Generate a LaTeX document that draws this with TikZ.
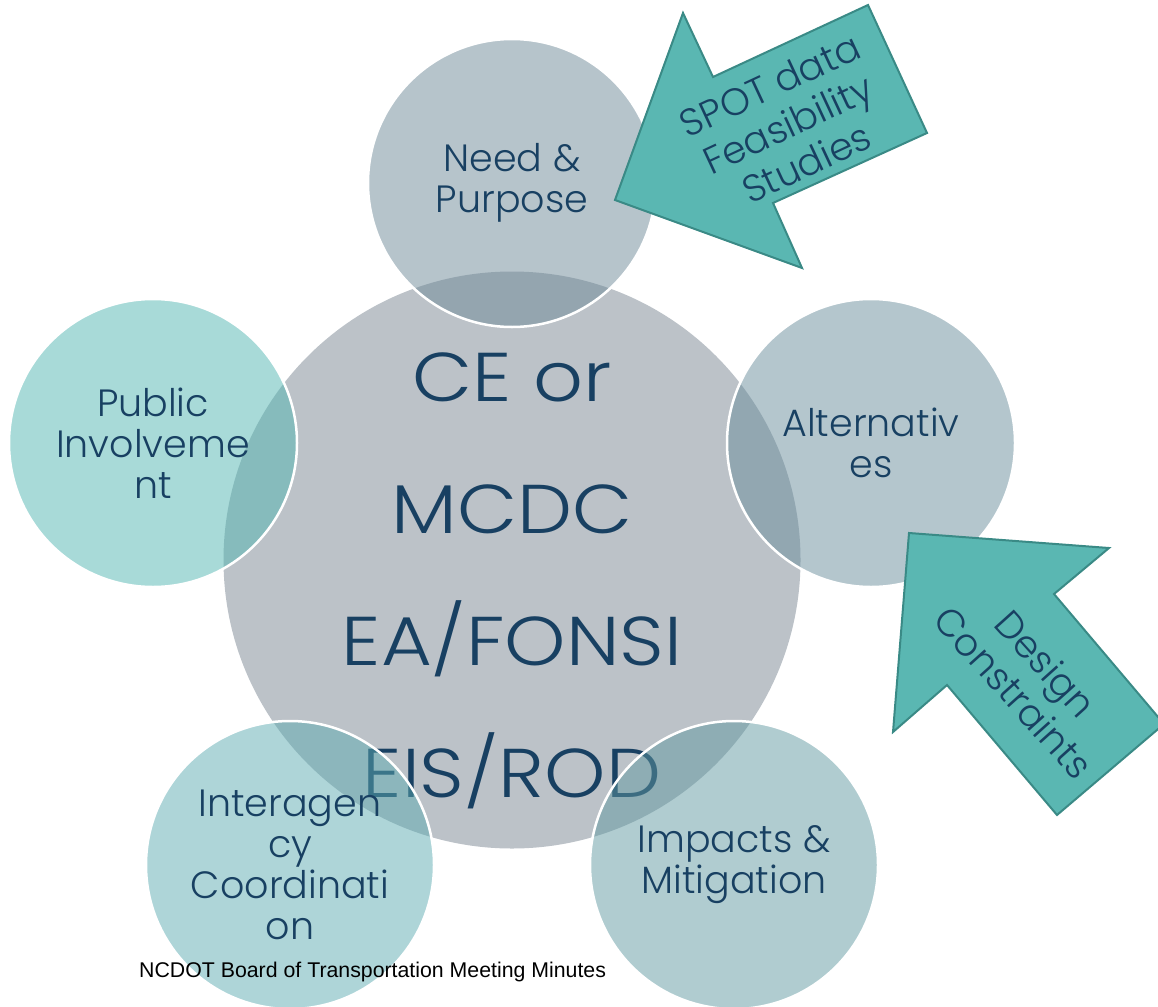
\documentclass[tikz,border=0pt]{standalone}
\usepackage{fontspec}
\usepackage{xcolor}
\usepackage{tikz}
\newfontfamily\montlight{Poppins Light}
\newfontfamily\montwide{Poppins Light}[FakeStretch=1.13]
\newfontfamily\footfont{Liberation Sans}
\definecolor{inkblue}{RGB}{24,64,98}
\definecolor{hubgray}{RGB}{188,194,200}
\definecolor{needc}{RGB}{109,137,151}
\definecolor{altc}{RGB}{105,141,155}
\definecolor{pubc}{RGB}{81,181,177}
\definecolor{interc}{RGB}{93,171,177}
\definecolor{impc}{RGB}{97,153,161}
\definecolor{calloutfill}{RGB}{90,183,178}
\definecolor{calloutedge}{RGB}{58,138,134}
\tikzset{
  hub/.style={circle,fill=hubgray,minimum size=577pt,inner sep=0pt},
  hubtext/.style={align=center,text=inkblue,inner sep=0pt,font=\montwide\fontsize{69}{132}\selectfont},
  spoke/.style={circle,draw=white,line width=2.5pt,fill opacity=0.5,text opacity=1,minimum size=288pt,inner sep=0pt,align=center,text=inkblue,font=\montlight\fontsize{38}{41}\selectfont},
  callout/.style={draw=calloutedge,fill=calloutfill,line width=2pt,line join=miter},
  callouttext/.style={align=center,text=inkblue,inner sep=0pt,font=\montlight\fontsize{38}{43}\selectfont},
}
\begin{document}
\begin{tikzpicture}[x=1pt,y=-1pt]
  \useasboundingbox (0,0) rectangle (1158,1006);
  % centre: the document types
  \node[hub] (core) at (512,560) {};
  \node[hubtext] (levels) at (512,581) {CE or\\MCDC\\EA/FONSI\\EIS/ROD};
  % the five topics round it
  \node[spoke,fill=needc] (need) at (512,183) {Need \&\\Purpose};
  \node[spoke,fill=altc] (alt) at (871,443) {Alternativ\\es};
  \node[spoke,fill=pubc] (pub) at (153,443) {Public\\Involveme\\nt};
  \node[spoke,fill=interc] (inter) at (290,865) {Interagen\\cy\\Coordinati\\on};
  \node[spoke,fill=impc] (imp) at (734,865) {Impacts \&\\Mitigation};
  % inputs
  \draw[callout] (615,200) -- (683,13) -- (713,77) -- (868,5) -- (927,133) -- (773,203) -- (802,268) -- cycle;
  \node[callouttext,rotate=25] (spot) at (788,124) {SPOT data\\Feasibility\\Studies};
  \draw[callout] (909,533) -- (1109,548) -- (1054,594) -- (1164,724) -- (1057,815) -- (947,685) -- (893,732) -- cycle;
  \node[callouttext,rotate=-48] (design) at (1030,678) {Design\\Constraints};
  \node[anchor=base west,inner sep=0pt,font=\footfont\fontsize{21.3}{25}\selectfont] (foot) at (139,977) {NCDOT Board of Transportation Meeting Minutes};
\end{tikzpicture}
\end{document}
